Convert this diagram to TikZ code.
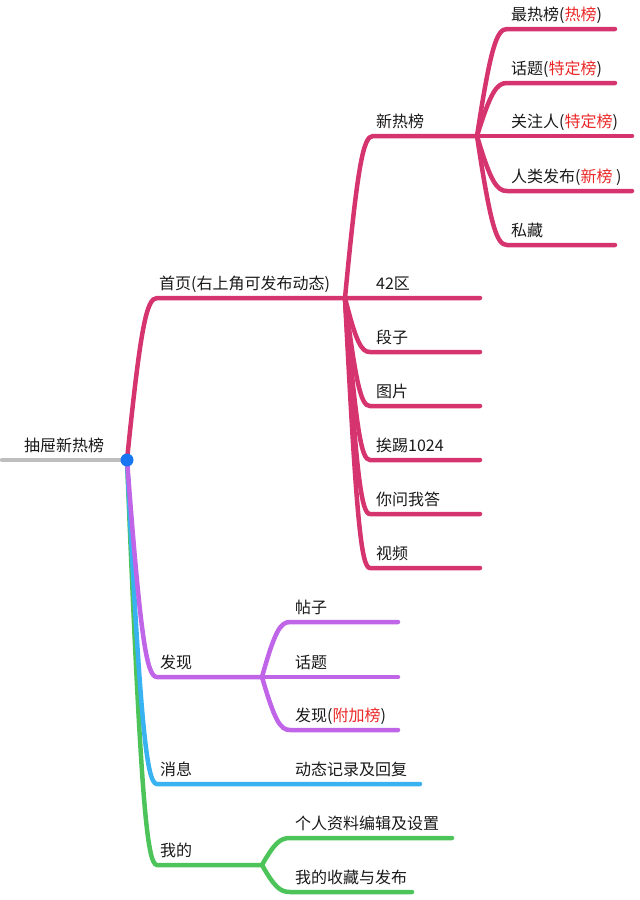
\documentclass[tikz,border=0pt]{standalone}
\usepackage{fontspec}
\setmainfont{Noto Sans CJK SC}
\usetikzlibrary{calc}
\definecolor{homec}{RGB}{214,52,110}
\definecolor{findc}{RGB}{192,100,232}
\definecolor{msgc}{RGB}{56,178,240}
\definecolor{minec}{RGB}{76,196,90}
\definecolor{rootc}{RGB}{190,190,190}
\definecolor{dotc}{RGB}{24,118,242}
\definecolor{tagc}{RGB}{235,40,40}
\tikzset{
  lab/.style={anchor=base west,inner sep=0pt,text=black!90},
  limb/.style={line width=4.5pt,line cap=round},
  fork/.style={to path={let \p1=(\tikztostart),\p2=(\tikztotarget) in
    .. controls ({\x1+0.45*(\x2-\x1)},{\y1+0.82*(\y2-\y1)}) and ({\x1+0.65*(\x2-\x1)},\y2) .. (\tikztotarget) \tikztonodes}}
}
\begin{document}
\begin{tikzpicture}[x=1pt,y=-1pt,font=\fontsize{16}{18}\selectfont]
\useasboundingbox (0,0) rectangle (640,900);
% root
\coordinate (start) at (2,460);
\coordinate (root) at (127,460);
\draw[limb,rootc] (start) -- (root);
\node[lab] (title) at (24,451) {抽屉新热榜};
% 我的
\coordinate (mine) at (157,865);
\coordinate (minef) at (262,865);
\draw[limb,minec] (root) to[fork] (mine) -- (minef);
\node[lab] (minel) at (160,856) {我的};
\foreach \k/\y/\e/\t in {prof/838/452/个人资料编辑及设置,coll/892/412/我的收藏与发布}{
  \coordinate (\k a) at (290,\y);
  \coordinate (\k b) at (\e,\y);
  \draw[limb,minec] (minef) to[fork] (\k a) -- (\k b);
  \node[lab] (\k) at (295,\y-9) {\t};
}
% 消息
\coordinate (msg) at (157,784);
\coordinate (msge) at (420,784);
\draw[limb,msgc] (root) to[fork] (msg) -- (msge);
\node[lab] (msgl) at (160,775) {消息};
\node[lab] (log) at (295,775) {动态记录及回复};
% 发现
\coordinate (find) at (157,677);
\coordinate (findf) at (262,677);
\draw[limb,findc] (root) to[fork] (find) -- (findf);
\node[lab] (findl) at (160,668) {发现};
\foreach \k/\y/\t in {post/622/帖子,topic/677/话题,extra/730/{发现({\color{tagc}附加榜})}}{
  \coordinate (\k a) at (290,\y);
  \coordinate (\k b) at (398,\y);
  \draw[limb,findc] (findf) to[fork] (\k a) -- (\k b);
  \node[lab] (\k) at (295,\y-9) {\t};
}
% 首页
\coordinate (home) at (157,298);
\coordinate (homef) at (345,298);
\coordinate (zone) at (480,298);
\draw[limb,homec] (root) to[fork] (home) -- (homef) -- (zone);
\node[lab] (homel) at (159,289) {首页(右上角可发布动态)};
\node[lab] (zonel) at (376,289) {42区};
\foreach \k/\y/\t in {joke/352/段子,pic/406/图片,it/460/挨踢1024,qa/514/你问我答,video/568/视频}{
  \coordinate (\k a) at (370,\y);
  \coordinate (\k b) at (480,\y);
  \draw[limb,homec] (homef) to[fork] (\k a) -- (\k b);
  \node[lab] (\k) at (376,\y-9) {\t};
}
% 新热榜
\coordinate (new) at (373,136);
\coordinate (newf) at (477,136);
\draw[limb,homec] (homef) to[fork] (new) -- (newf);
\node[lab] (newl) at (376,127) {新热榜};
\foreach \k/\y/\e/\t in {hot/29/615/{最热榜({\color{tagc}热榜})},
    talk/83/615/{话题({\color{tagc}特定榜})},
    follow/136/632/{关注人({\color{tagc}特定榜})},
    human/191/632/{人类发布({\color{tagc}新榜} )},
    keep/245/615/私藏}{
  \coordinate (\k a) at (507,\y);
  \coordinate (\k b) at (\e,\y);
  \draw[limb,homec] (newf) to[fork] (\k a) -- (\k b);
  \node[lab] (\k) at (511,\y-9) {\t};
}
\fill[dotc] (root) circle (6.5pt);
\end{tikzpicture}
\end{document}
